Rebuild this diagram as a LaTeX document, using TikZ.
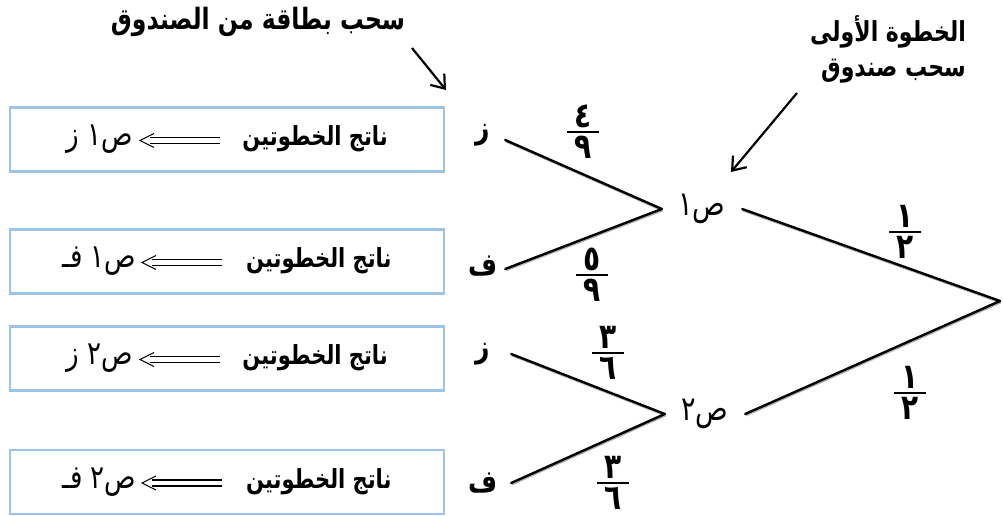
\documentclass[tikz,border=0pt]{standalone}
\usepackage{graphicx}
\usepackage{fontspec}
\newfontfamily\arabicfont[Script=Arabic]{DejaVu Sans}
\TeXXeTstate=1
\usetikzlibrary{arrows.meta}
\definecolor{boxblue}{HTML}{9DC3E6}
\newcommand\artxt[1]{\scalebox{1}[1.25]{\arabicfont\beginR #1\endR}}
\newcommand\fsz[1]{\fontsize{#1}{#1}\selectfont}
\newcommand\resline[1]{{\mdseries\fsz{26}\artxt{#1}}\hspace{110pt}{\fsz{21}\artxt{ناتج الخطوتين}}}
\begin{document}
\begin{tikzpicture}[x=1pt,y=-1pt,
  resbox/.style={draw=boxblue, line width=2.6pt, minimum width=434pt, minimum height=64pt, inner sep=0pt,
    font=\arabicfont\bfseries},
  leaf/.style={font=\arabicfont\bfseries\fsz{25}, inner sep=0pt, minimum width=44pt, minimum height=20pt},
  mid/.style={font=\arabicfont\fsz{27}, inner sep=0pt, minimum width=80pt, minimum height=20pt},
  branch/.style={line width=2.4pt, line cap=round,
    preaction={draw=gray!60, line width=2.4pt, transform canvas={shift={(0.6pt,-1.2pt)}}}},
  note/.style={font=\arabicfont\bfseries\fsz{22}, inner sep=0pt, align=right},
  pointer/.style={line width=2.2pt, -{Straight Barb[length=12pt,width=18pt,line width=2.2pt]}},
  fracdig/.style={font=\arabicfont\bfseries\fsz{28}, inner sep=0pt},
  pics/afrac/.style 2 args={code={
     \draw[line width=2.8pt] (-16,0) -- (16,0);
     \node[fracdig, anchor=south] (-num) at (0,-4) {#1};
     \node[fracdig, anchor=north] (-den) at (0,4) {#2};}},
  pics/implyarrow/.style={code={
     \draw[line width=1.1pt] (-30,-3) -- (40,-3) (-30,3) -- (40,3);
     \draw[line width=1.1pt, line join=miter] (-26,-7) -- (-40,0) -- (-26,7);}}
]
\useasboundingbox (0,0) rectangle (1003,516);
\fill[white] (0,0) rectangle (1003,516);

% result boxes
\node[resbox] (b1) at (227,139.5) {\resline{ص١ ز}};
\node[resbox] (b2) at (227,261.5) {\resline{ص١ فـ}};
\node[resbox] (b3) at (227,358.5) {\resline{ص٢ ز}};
\node[resbox] (b4) at (227,482) {\resline{ص٢ فـ}};
\pic (ar1) at ([xshift=-47pt,yshift=-1pt]b1.center) {implyarrow};
\pic (ar2) at ([xshift=-45pt,yshift=-1pt]b2.center) {implyarrow};
\pic (ar3) at ([xshift=-47pt,yshift=-1pt]b3.center) {implyarrow};
\pic (ar4) at ([xshift=-45pt,yshift=-1pt]b4.center) {implyarrow};

% leaves
\node[leaf] (z1) at (483,135) {\artxt{ز}};
\node[leaf] (f1) at (483,266) {\artxt{ف}};
\node[leaf] (z2) at (483,354) {\artxt{ز}};
\node[leaf] (f2) at (483,483) {\artxt{ف}};

% middle nodes
\node[mid] (n1) at (702,209) {\artxt{ص١}};
\node[mid] (n2) at (705,414) {\artxt{ص٢}};
\coordinate (root) at (1000,301);

% branches
\draw[branch] ([yshift=-5pt]z1.east) -- (n1.west);
\draw[branch] ([yshift=-3pt]f1.east) -- (n1.west);
\draw[branch] ([xshift=6pt]z2.east) -- (n2.west);
\draw[branch] ([xshift=6pt]f2.east) -- (n2.west);
\draw[branch] (n1.east) -- (root);
\draw[branch] (root) -- (n2.east);

% probabilities
\pic (p1) at (583,132) {afrac={\artxt{٤}}{\artxt{٩}}};
\pic (p2) at (592,275) {afrac={\artxt{٥}}{\artxt{٩}}};
\pic (p3) at (905,232) {afrac={\artxt{١}}{\artxt{٢}}};
\pic (p4) at (608,353) {afrac={\artxt{٣}}{\artxt{٦}}};
\pic (p5) at (613,483) {afrac={\artxt{٣}}{\artxt{٦}}};
\pic (p6) at (910,393) {afrac={\artxt{١}}{\artxt{٢}}};

% notes
\node[note, font=\arabicfont\bfseries\fsz{23.5}] (t1) at (258,22) {\artxt{سحب بطاقة من الصندوق}};
\node[note, anchor=north east] (t2) at (966,15) {\artxt{الخطوة الأولى}\\[10pt]\artxt{سحب صندوق}};
\coordinate (a1s) at (412,48);
\coordinate (a1e) at (446,90);
\coordinate (a2s) at (797,93);
\coordinate (a2e) at (731,172);
\draw[pointer] (a1s) -- (a1e);
\draw[pointer] (a2s) -- (a2e);
\end{tikzpicture}
\end{document}
